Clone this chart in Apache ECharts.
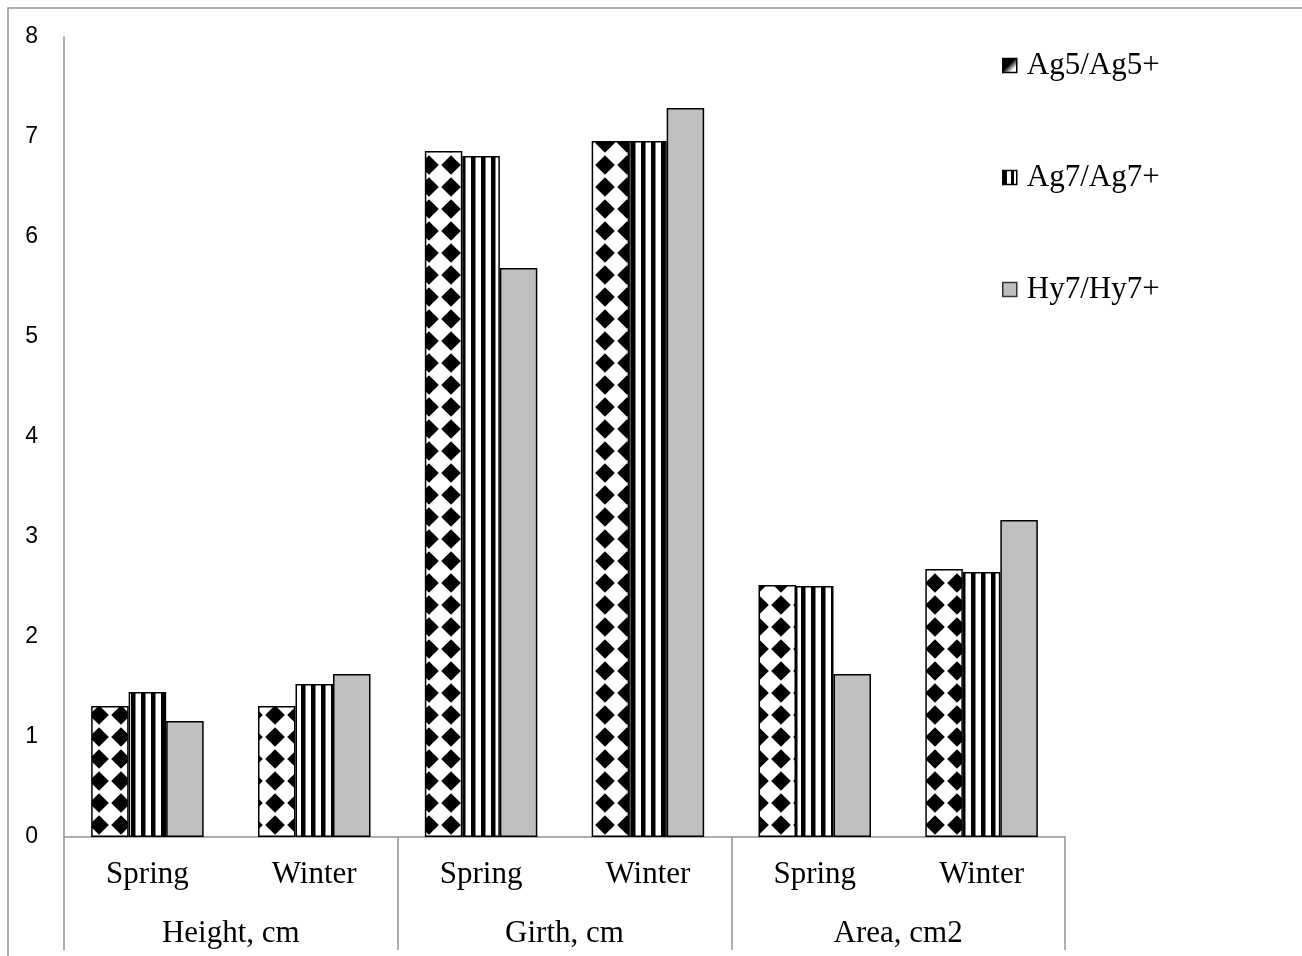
<!DOCTYPE html>
<html>
<head>
  <meta charset="utf-8">
  <title>Ag5 / Ag7 / Hy7</title>
  <script src="https://cdn.jsdelivr.net/npm/echarts@6.0.0/dist/echarts.min.js"></script>
  <style>
    html, body { margin: 0; padding: 0; background: #fff; }
    #main { width: 1302px; height: 956px; }
  </style>
</head>
<body>
  <div id="main"></div>
  <script>
    // data
    const seasons = ['Spring', 'Winter', 'Spring', 'Winter', 'Spring', 'Winter'];
    const groups = ['Height, cm', 'Girth, cm', 'Area, cm2'];
    const seriesNames = ['Ag5/Ag5+', 'Ag7/Ag7+', 'Hy7/Hy7+'];
    const ag5 = [1.31, 1.31, 6.86, 6.96, 2.52, 2.68];
    const ag7 = [1.45, 1.53, 6.81, 6.96, 2.51, 2.65];
    const hy7 = [1.16, 1.63, 5.69, 7.29, 1.63, 3.17];
    const yTicks = [0, 8, 1]; // min, max, interval

    const serif = '"Liberation Serif", "Times New Roman", serif';
    const sans = '"Liberation Sans", Arial, sans-serif';
    const axisGray = '#929292';

    // diamond (rotated checker) fill
    function diamondTile() {
      const c = document.createElement('canvas');
      c.width = 22; c.height = 22;
      const ctx = c.getContext('2d');
      ctx.fillStyle = '#fff';
      ctx.fillRect(0, 0, 22, 22);
      ctx.fillStyle = '#000';
      ctx.beginPath();
      ctx.moveTo(11, 1.2);
      ctx.lineTo(20.8, 11);
      ctx.lineTo(11, 20.8);
      ctx.lineTo(1.2, 11);
      ctx.closePath();
      ctx.fill();
      return c;
    }

    // vertical stripes fill
    function stripeTile() {
      const c = document.createElement('canvas');
      c.width = 10; c.height = 10;
      const ctx = c.getContext('2d');
      ctx.fillStyle = '#fff';
      ctx.fillRect(0, 0, 10, 10);
      ctx.fillStyle = '#000';
      ctx.fillRect(1, 0, 4.5, 10);
      return c;
    }

    const diamondFill = { image: diamondTile(), repeat: 'repeat' };
    const stripeFill = { image: stripeTile(), repeat: 'repeat' };

    const chart = echarts.init(document.getElementById('main'), null, { renderer: 'canvas' });

    const barBase = {
      type: 'bar',
      xAxisIndex: 0,
      barWidth: 37.5,
      barGap: '0%',
      silent: true
    };

    const option = {
      animation: false,
      backgroundColor: '#fff',
      graphic: [
        {
          type: 'rect',
          shape: { x: 8, y: 8, width: 1400, height: 1100 },
          style: { fill: 'none', stroke: axisGray, lineWidth: 1.5 },
          silent: true
        }
      ],
      grid: { left: 64, right: 237, top: 37, bottom: 119 },
      legend: {
        orient: 'vertical',
        left: 1002,
        top: 50,
        padding: 0,
        itemWidth: 14,
        itemHeight: 14,
        itemGap: 81,
        selectedMode: false,
        icon: 'rect',
        textStyle: {
          fontFamily: serif,
          fontSize: 31,
          color: '#000',
          padding: [0, 0, 0, 5]
        },
        data: [
          {
            name: seriesNames[0],
            itemStyle: {
              color: {
                type: 'linear', x: 0, y: 0, x2: 1, y2: 1,
                colorStops: [
                  { offset: 0, color: '#000' },
                  { offset: 0.45, color: '#000' },
                  { offset: 0.75, color: '#fff' },
                  { offset: 1, color: '#fff' }
                ]
              },
              borderColor: '#000',
              borderWidth: 1.5
            }
          },
          {
            name: seriesNames[1],
            itemStyle: {
              color: {
                type: 'linear', x: 0, y: 0, x2: 1, y2: 0,
                colorStops: [
                  { offset: 0, color: '#000' },
                  { offset: 0.3, color: '#000' },
                  { offset: 0.3, color: '#fff' },
                  { offset: 0.55, color: '#fff' },
                  { offset: 0.55, color: '#000' },
                  { offset: 0.75, color: '#000' },
                  { offset: 0.75, color: '#fff' },
                  { offset: 1, color: '#fff' }
                ]
              },
              borderColor: '#000',
              borderWidth: 1.5
            }
          },
          {
            name: seriesNames[2],
            itemStyle: { color: '#bfbfbf', borderColor: '#333', borderWidth: 1.5 }
          }
        ]
      },
      xAxis: [
        {
          type: 'category',
          data: seasons,
          position: 'bottom',
          axisLine: { show: true, lineStyle: { color: axisGray, width: 1.5 } },
          axisTick: { show: false },
          axisLabel: {
            interval: 0,
            margin: 22,
            fontFamily: serif,
            fontSize: 31,
            color: '#000'
          }
        },
        {
          type: 'category',
          data: groups,
          position: 'bottom',
          axisLine: { show: false },
          axisTick: {
            show: true,
            interval: 0,
            length: 113,
            lineStyle: { color: axisGray, width: 1.5 }
          },
          axisLabel: {
            interval: 0,
            margin: 81,
            fontFamily: serif,
            fontSize: 31,
            color: '#000'
          }
        }
      ],
      yAxis: {
        type: 'value',
        min: yTicks[0],
        max: yTicks[1],
        interval: yTicks[2],
        axisLine: { show: true, lineStyle: { color: axisGray, width: 1.5 } },
        axisTick: { show: false },
        splitLine: { show: false },
        axisLabel: {
          margin: 26,
          fontFamily: sans,
          fontSize: 23,
          color: '#000',
          align: 'right'
        }
      },
      series: [
        Object.assign({}, barBase, {
          name: seriesNames[0],
          data: ag5,
          itemStyle: { color: diamondFill, borderColor: '#000', borderWidth: 1.5 }
        }),
        Object.assign({}, barBase, {
          name: seriesNames[1],
          data: ag7,
          itemStyle: { color: stripeFill, borderColor: '#000', borderWidth: 1.5 }
        }),
        Object.assign({}, barBase, {
          name: seriesNames[2],
          data: hy7,
          itemStyle: { color: '#bfbfbf', borderColor: '#000', borderWidth: 1.5 }
        })
      ]
    };

    chart.setOption(option);
    window.addEventListener('resize', function () { chart.resize(); });
  </script>
</body>
</html>
